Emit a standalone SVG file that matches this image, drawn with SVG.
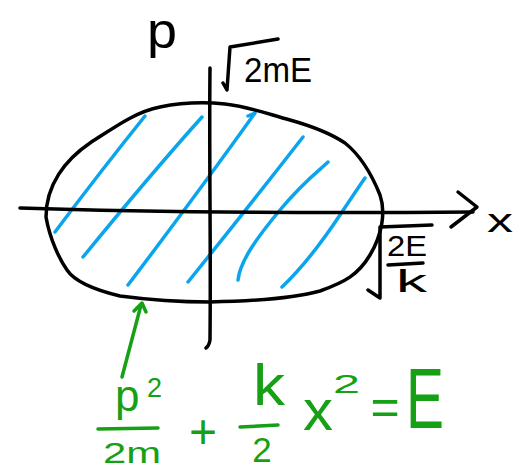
<svg xmlns="http://www.w3.org/2000/svg" width="522" height="471" viewBox="0 0 522 471">
<style>
.k{fill:none;stroke:#000;stroke-width:3.5;stroke-linecap:round;stroke-linejoin:round}
.b{fill:none;stroke:#0aa5ec;stroke-width:3.5;stroke-linecap:round;stroke-linejoin:round}
.g{fill:none;stroke:#15a015;stroke-width:3.5;stroke-linecap:round;stroke-linejoin:round}
.tk{font-family:"Liberation Sans",Arial,sans-serif;fill:#000}
.tg{font-family:"Liberation Sans",Arial,sans-serif;fill:#15a015}
</style>
<rect width="522" height="471" fill="#fff"/>
<g id="hatch">
<path class="b" d="M55,232 Q100,172 145,116"/>
<path class="b" d="M83,257 Q150,175 202,117"/>
<path class="b" d="M128,285 Q200,190 255,113 M248,116 L255,113"/>
<path class="b" d="M188,282 Q250,205 303,137"/>
<path class="b" d="M238,280 C240,262 255,240 280,210 S320,170 328,162"/>
<path class="b" d="M282,287 C300,270 320,245 340,215 S360,185 365,178"/>
</g>
<g id="ellipse">
<path class="k" d="M46,217 C46,185 65,160 90,143 C115,127 135,112 160,107 C185,102 205,102 225,104 C250,107 265,113 290,120 C315,127 330,133 345,143 C360,155 372,175 380,195 C386,212 382,235 370,255 C358,275 345,282 320,291 C295,298 260,301 210,302 C175,302 150,300 120,296 C95,290 75,282 67,270 C60,260 50,240 46,217 Z"/>
</g>
<g id="axes">
<path class="k" d="M20,208 Q200,214 473,212"/>
<path class="k" d="M458,192 L477,207 L451,227"/>
<path class="k" d="M210,68 C209,150 211,250 210,340 Q209,346 206,348"/>
</g>
<g id="labels">
<text class="tk" x="147" y="48" font-size="50" textLength="30" lengthAdjust="spacingAndGlyphs">p</text>
<text class="tk" x="487" y="232" font-size="33" textLength="26" lengthAdjust="spacingAndGlyphs">x</text>
<path class="k" d="M223,83 L227,90 L230,47 L278,39"/>
<text class="tk" x="244" y="82" font-size="35" textLength="68" lengthAdjust="spacingAndGlyphs">2mE</text>
<path class="k" d="M368,290 L380,298 L380,227 L432,225"/>
<text class="tk" x="387" y="256" font-size="29" textLength="40" lengthAdjust="spacingAndGlyphs">2E</text>
<path class="k" d="M388,265 L423,263"/>
<text class="tk" x="396" y="292" font-size="31" textLength="31" lengthAdjust="spacingAndGlyphs">k</text>
</g>
<g id="equation">
<path class="g" d="M122,377 L141,305 M134,311 L142,303 L146,312"/>
<text class="tg" x="115" y="411" font-size="44">p</text>
<text class="tg" x="147" y="397" font-size="27">2</text>
<path class="g" d="M98,429 L158,428"/>
<text class="tg" x="103" y="463" font-size="30" textLength="58" lengthAdjust="spacingAndGlyphs">2m</text>
<text class="tg" x="203" y="448" font-size="48" text-anchor="middle">+</text>
<text class="tg" x="253" y="405" font-size="58" textLength="32" lengthAdjust="spacingAndGlyphs">k</text>
<path class="g" d="M240,427 L278,425"/>
<text class="tg" x="262" y="462" font-size="35" text-anchor="middle">2</text>
<text class="tg" x="303" y="430" font-size="57" textLength="30" lengthAdjust="spacingAndGlyphs">x</text>
<text class="tg" x="333" y="393" font-size="25" textLength="27" lengthAdjust="spacingAndGlyphs">2</text>
<text class="tg" x="385" y="424" font-size="50" text-anchor="middle">=</text>
<text class="tg" x="406" y="428" font-size="85" textLength="38" lengthAdjust="spacingAndGlyphs">E</text>
</g>
</svg>
